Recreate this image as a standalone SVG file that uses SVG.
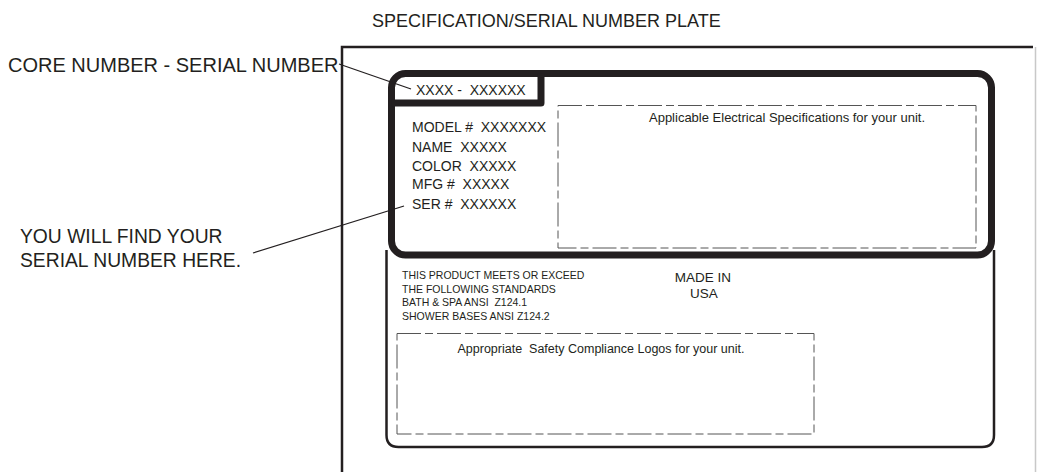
<svg xmlns="http://www.w3.org/2000/svg" width="1037" height="472" viewBox="0 0 1037 472">
  <style>
    text { font-family: "Liberation Sans", Arial, sans-serif; fill: #231f20; white-space: pre; }
    .thick { fill: none; stroke: #231f20; stroke-width: 7; stroke-linejoin: round; }
    .thin { fill: none; stroke: #231f20; stroke-width: 2.5; }
    .dash { fill: none; stroke: #555; stroke-width: 1; stroke-dasharray: 24 4 8 4; }
    .leader { fill: none; stroke: #231f20; stroke-width: 1.3; }
  </style>
  <rect width="1037" height="472" fill="#fff"/>

  <g id="title">
    <text x="372" y="27" font-size="18">SPECIFICATION/SERIAL NUMBER PLATE</text>
  </g>

  <g id="plate">
    <path class="thin" d="M342 472 V47 H1033"/>
    <line x1="1035.5" y1="47" x2="1035.5" y2="472" stroke="#c8c8c8" stroke-width="1.5"/>
  </g>

  <g id="lower-panel">
    <path class="thin" d="M386.5 250 V435 Q386.5 447 398.5 447 H982 Q994 447 994 435 V250"/>
  </g>

  <g id="label-panel">
    <rect class="thick" x="391.5" y="73.5" width="600" height="181.5" rx="14"/>
    <path class="thick" d="M391.5 103 H541 V73.5" stroke-linejoin="miter"/>
  </g>

  <g id="core-number">
    <text x="416" y="95" font-size="14">XXXX -  XXXXXX</text>
  </g>

  <g id="model-info">
    <text x="412" y="132" font-size="14">MODEL #  XXXXXXX</text>
    <text x="412" y="152" font-size="14">NAME  XXXXX</text>
    <text x="412" y="171" font-size="14">COLOR  XXXXX</text>
    <text x="412" y="188.5" font-size="14">MFG #  XXXXX</text>
    <text x="412" y="209" font-size="14">SER #  XXXXXX</text>
  </g>

  <g id="electrical-box">
    <rect class="dash" x="558" y="105.5" width="418" height="142.5"/>
    <text x="787" y="122" font-size="13" text-anchor="middle">Applicable Electrical Specifications for your unit.</text>
  </g>

  <g id="standards">
    <text x="402" y="279" font-size="10.5">THIS PRODUCT MEETS OR EXCEED</text>
    <text x="402" y="292.5" font-size="10.5">THE FOLLOWING STANDARDS</text>
    <text x="402" y="306" font-size="10.5">BATH &amp; SPA ANSI  Z124.1</text>
    <text x="402" y="319.5" font-size="10.5">SHOWER BASES ANSI Z124.2</text>
  </g>

  <g id="made-in">
    <text x="703" y="282" font-size="13.5" text-anchor="middle">MADE IN</text>
    <text x="704" y="298" font-size="13.5" text-anchor="middle">USA</text>
  </g>

  <g id="safety-box">
    <rect class="dash" x="397" y="333.5" width="417" height="100.5"/>
    <text x="601" y="353" font-size="12.5" text-anchor="middle">Appropriate  Safety Compliance Logos for your unit.</text>
  </g>

  <g id="label-core">
    <text x="8" y="72" font-size="20">CORE NUMBER - SERIAL NUMBER</text>
  </g>

  <g id="label-serial">
    <text x="20" y="243" font-size="19.3">YOU WILL FIND YOUR</text>
    <text x="20" y="267" font-size="19.3">SERIAL NUMBER HERE.</text>
  </g>

  <g id="connectors">
    <line class="leader" x1="339" y1="64" x2="411" y2="89"/>
    <line class="leader" x1="253" y1="253" x2="404" y2="206"/>
  </g>
</svg>
